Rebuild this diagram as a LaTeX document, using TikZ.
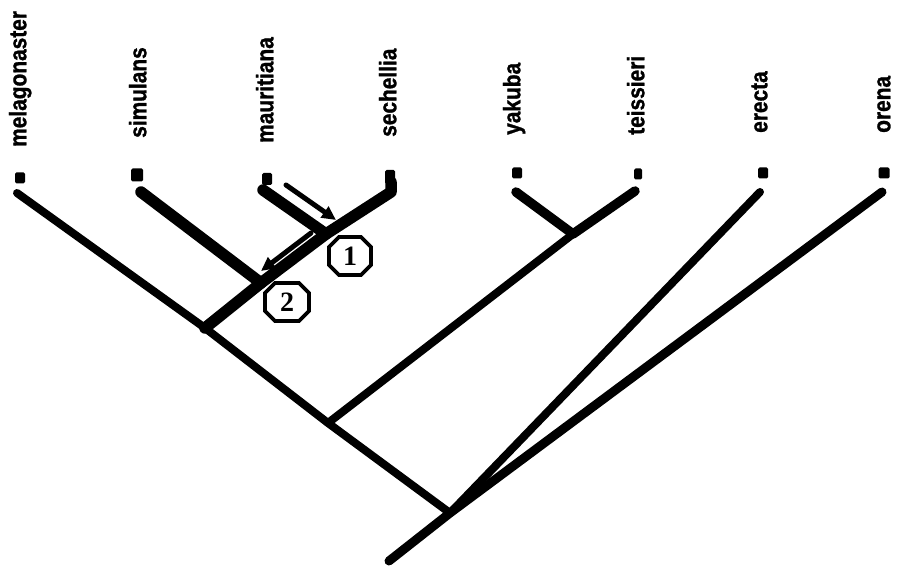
\documentclass[tikz,border=0pt]{standalone}
\usepackage{fontspec}
\setmainfont{Liberation Serif}
\newfontfamily\labfont[FakeStretch=0.87,FakeBold=1.2]{Liberation Sans Bold}
\usetikzlibrary{calc,arrows.meta}
\begin{document}
\begin{tikzpicture}[x=1pt,y=-1pt,
  taxon/.style={rotate=90,anchor=mid west,inner sep=0pt,font=\labfont\fontsize{24}{24}\selectfont},
  tipbox/.style={fill=black,rounded corners=1.5pt,minimum width=10pt,minimum height=11pt,inner sep=0pt},
  branch/.style={line width=8pt,line cap=round,line join=round},
  thickbranch/.style={line width=11.5pt,line cap=round,line join=round},
  flow/.style={line width=5pt,line cap=round,-{Triangle[length=14pt,width=13pt]}},
  octa/.style={draw,line width=3.8pt,fill=white,line join=miter},
  event/.style={inner sep=0pt,font=\bfseries\fontsize{28}{28}\selectfont}
]
\useasboundingbox (0,0) rectangle (898,567);

% labels
\node[taxon] (lMel) at (24,147) {melagonaster};
\node[taxon] (lSim) at (144,138) {simulans};
\node[taxon] (lMau) at (271,143) {mauritiana};
\node[taxon] (lSec) at (394,137) {sechellia};
\node[taxon] (lYak) at (518,135) {yakuba};
\node[taxon] (lTei) at (642,135) {teissieri};
\node[taxon] (lEre) at (765,133) {erecta};
\node[taxon] (lOre) at (888,133) {orena};

% tip squares
\node[tipbox] (sMel) at (20,178) {};
\node[tipbox,minimum width=12pt,minimum height=13pt] (sSim) at (137,175) {};
\node[tipbox,minimum height=12pt] (sMau) at (267,179) {};
\node[tipbox,minimum height=14pt] (sSec) at (390,177) {};
\node[tipbox] (sYak) at (517,173) {};
\node[tipbox,minimum width=8pt] (sTei) at (638,174) {};
\node[tipbox] (sEre) at (763,173) {};
\node[tipbox,minimum width=11pt] (sOre) at (884,173) {};

% tree coordinates
\coordinate (tMel) at (17,193);
\coordinate (tSim) at (141,192);
\coordinate (tMau) at (263,190);
\coordinate (tSecA) at (391,182);
\coordinate (tSecB) at (391,192);
\coordinate (tYak) at (516,192);
\coordinate (tTei) at (635,191);
\coordinate (tEre) at (760,192);
\coordinate (tOre) at (882,192);
\coordinate (nSec) at (205,328);
\coordinate (j2) at (261,283);
\coordinate (j1) at (326,234);
\coordinate (nYT) at (573,234);
\coordinate (nMid) at (328,423);
\coordinate (nRoot) at (450,513);
\coordinate (base) at (389,561);

% branches
\draw[branch] (tMel) -- (nSec) -- (nMid) -- (nRoot);
\draw[branch,line width=9pt] (base) -- (nRoot) -- (tOre);
\draw[branch] (nRoot) -- (tEre);
\draw[branch] (nMid) -- (nYT);
\draw[branch,line width=9.5pt] (tYak) -- (nYT) -- (tTei);
\draw[thickbranch] (nSec) -- (j2) -- (j1) -- (tSecB) -- (tSecA);
\draw[thickbranch] (tSim) -- (j2);
\draw[thickbranch] (tMau) -- (j1);

% introgression arrows
\coordinate (a1s) at (286,185);
\coordinate (a1e) at (336,220);
\coordinate (a2s) at (311,233);
\coordinate (a2e) at (261,271);
\draw[flow] (a1s) -- (a1e);
\draw[flow] (a2s) -- (a2e);

% event markers
\coordinate (c1) at (350,256);
\coordinate (c2) at (287,302);
\draw[octa] ($(c1)+(-11,-19)$) -- ++(22,0) -- ++(10,10) -- ++(0,18) -- ++(-10,10) -- ++(-22,0) -- ++(-10,-10) -- ++(0,-18) -- cycle;
\draw[octa] ($(c2)+(-12,-19)$) -- ++(24,0) -- ++(10,10) -- ++(0,18) -- ++(-10,10) -- ++(-24,0) -- ++(-10,-10) -- ++(0,-18) -- cycle;
\node[event] (e1) at (c1) {1};
\node[event] (e2) at (c2) {2};
\end{tikzpicture}
\end{document}
